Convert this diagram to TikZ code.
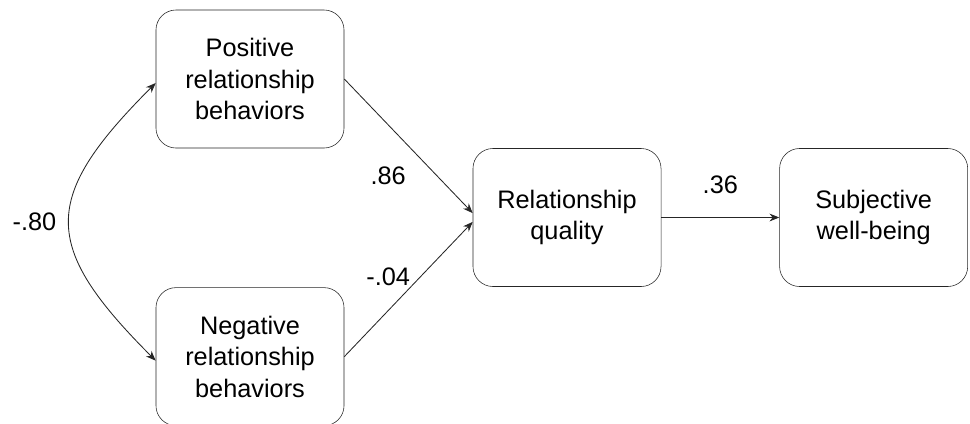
\documentclass[tikz,border=0pt]{standalone}
\usepackage{fontspec}
\setmainfont{Liberation Sans}
\usetikzlibrary{arrows.meta,positioning}

\begin{document}
\begin{tikzpicture}[x=0.025cm,y=-0.025cm,>={Stealth[length=7pt,width=5.5pt]},
  every node/.style={font=\fontsize{18}{22.5}\selectfont},
  varbox/.style={draw=black!85,rounded corners=0.5cm,align=center,minimum width=4.7cm,minimum height=3.45cm,inner sep=2pt},
  effect/.style={->,draw=black!85,line width=0.6pt}]
\useasboundingbox (0,0) rectangle (970,423);
\node[varbox] (pos) at (250,79) {Positive\\relationship\\behaviors};
\node[varbox,below=3.475cm of pos] (neg) {Negative\\relationship\\behaviors};
\node[varbox] (qual) at (567,217.5) {Relationship\\quality};
\node[varbox,right=2.95cm of qual] (swb) {Subjective\\well-being};
\draw[effect] (pos.east) -- ([yshift=0.11cm]qual.west) node[pos=0.72,left=0.765cm,inner sep=0] {.86};
\draw[effect] (neg.east) -- ([yshift=-0.11cm]qual.west) node[pos=0.59,left=0.24cm,inner sep=0] {-.04};
\draw[effect] (qual) -- (swb) node[midway,above=0.59cm,inner sep=0] {.36};
\draw[effect,<->] ([yshift=-0.1cm]pos.west) .. controls +(-115,115) and +(-115,-115) .. ([yshift=-0.1cm]neg.west) node[midway,left=0.32cm,inner sep=0] {-.80};
\end{tikzpicture}
\end{document}
